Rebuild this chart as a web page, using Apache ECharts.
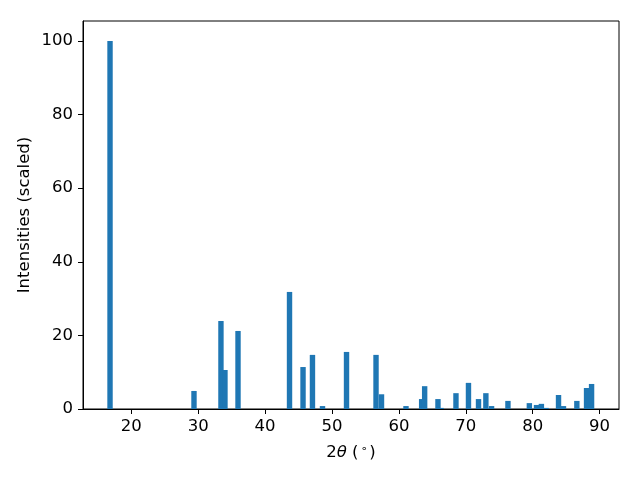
<!DOCTYPE html>
<html>
<head>
<meta charset="utf-8">
<script src="https://cdn.jsdelivr.net/npm/echarts@6/dist/echarts.min.js"></script>
<style>html,body{margin:0;padding:0;background:#fff;}#c{width:640px;height:480px;}</style>
</head>
<body>
<div id="c"></div>
<script>
const twoTheta = [16.82, 29.37, 33.4, 34.0, 35.95, 43.65, 45.67, 47.08, 48.58, 52.17, 56.58, 57.4, 61.06, 63.4, 63.85, 65.84, 66.3, 68.53, 70.4, 71.9, 73.0, 73.85, 76.3, 79.5, 80.57, 81.3, 82.0, 83.86, 84.6, 86.6, 88.05, 88.8];
const intensities = [100, 4.9, 23.9, 10.6, 21.2, 31.8, 11.4, 14.7, 0.8, 15.5, 14.7, 4.0, 0.8, 2.7, 6.2, 2.7, 0.3, 4.3, 7.1, 2.7, 4.3, 0.8, 2.2, 1.6, 1.1, 1.4, 0.3, 3.8, 0.8, 2.2, 5.7, 6.8];
const xTicks = [20, 30, 40, 50, 60, 70, 80, 90];
const yTicks = [0, 20, 40, 60, 80, 100];

const chart = echarts.init(document.getElementById('c'), null, {renderer: 'canvas'});
const font = 'DejaVu Sans';
chart.setOption({
  animation: false,
  backgroundColor: '#fff',
  grid: {left: 83, right: 21, top: 21, bottom: 71, show: true, borderColor: '#000', borderWidth: 1, backgroundColor: 'transparent'},
  xAxis: {
    type: 'value', min: 12.78, max: 92.9,
    axisLine: {show: true, onZero: false, lineStyle: {color: '#000', width: 1}},
    axisTick: {show: true, length: 5, lineStyle: {color: '#000'}, customValues: xTicks},
    axisLabel: {color: '#000', fontFamily: font, fontSize: 16.5, margin: 9, customValues: xTicks},
    splitLine: {show: false},
    name: '{a|2}{i|θ}{a| (}{s|∘}{a|)}',
    nameLocation: 'middle', nameGap: 35, nameMoveOverlap: false,
    nameTextStyle: {
      rich: {
        a: {fontFamily: font, fontSize: 16.5, color: '#000'},
        i: {fontFamily: font, fontSize: 16.5, fontStyle: 'italic', color: '#000'},
        s: {fontFamily: font, fontSize: 11, color: '#000', verticalAlign: 'top', padding: [0, 2, 7, 2]}
      }
    }
  },
  yAxis: {
    type: 'value', min: 0, max: 105.4,
    axisLine: {show: true, lineStyle: {color: '#000', width: 1}},
    axisTick: {show: true, length: 5, lineStyle: {color: '#000'}, customValues: yTicks},
    axisLabel: {color: '#000', fontFamily: font, fontSize: 16.5, margin: 10, customValues: yTicks},
    splitLine: {show: false},
    name: 'Intensities (scaled)',
    nameLocation: 'middle', nameGap: 50, nameMoveOverlap: false,
    nameTextStyle: {fontFamily: font, fontSize: 16.5, color: '#000'}
  },
  series: [{
    type: 'bar',
    data: twoTheta.map((x, i) => [x, intensities[i]]),
    barWidth: 5.4,
    itemStyle: {color: '#1f77b4'}
  }]
});
</script>
</body>
</html>
